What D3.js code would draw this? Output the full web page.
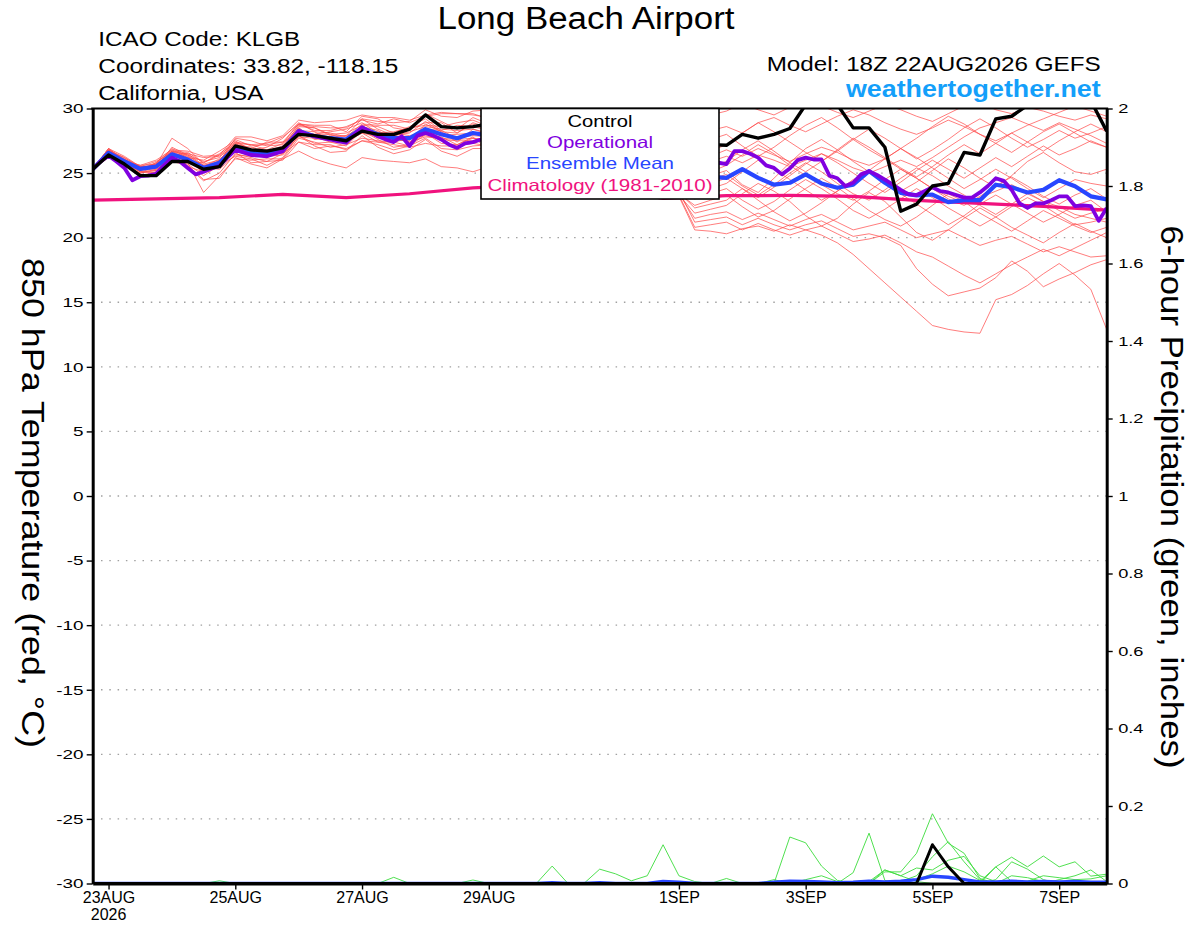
<!DOCTYPE html>
<html><head><meta charset="utf-8">
<script src="https://cdn.jsdelivr.net/npm/d3@7"></script>
<style>
body{margin:0;background:#fff}
svg{display:block}
text{font-family:"Liberation Sans",Arial,Helvetica,sans-serif}
</style>
</head><body>
<svg id="chart" width="1200" height="927"></svg>
<script>
// ---------------- DATA ----------------
const runStartUTC = "2026-08-22T18:00:00Z";
const runEndUTC = "2026-09-07T18:00:00Z";
const stepHours = 6;          // control, mean, members, precip
const opStepHours = 3;        // operational run
const climStepHours = 24;

const tempTicks = [30,25,20,15,10,5,0,-5,-10,-15,-20,-25,-30];
const precipTicks = [2,1.8,1.6,1.4,1.2,1,0.8,0.6,0.4,0.2,0];
const xTickDates = ["2026-08-23","2026-08-25","2026-08-27","2026-08-29","2026-09-01","2026-09-03","2026-09-05","2026-09-07"];
const xTickLabels = ["23AUG","25AUG","27AUG","29AUG","1SEP","3SEP","5SEP","7SEP"];
const legendLabels = ["Control","Operational","Ensemble Mean","Climatology (1981-2010)"];

const controlTemp = [25.3,26.4,25.7,24.8,24.8,25.9,25.9,25.3,25.5,27.1,26.8,26.7,26.95,
 28.0,27.9,27.7,27.5,28.25,28.0,28.0,28.4,29.5,28.6,28.5,28.6,28.8,
 29.2,28.9,28.4,28.7,28.2,27.9,28.3,27.8,27.5,27.9,27.6,27.3,27.6,
 27.2,27.15,28.0,27.7,28.0,28.45,30.3,31.0,30.3,28.5,28.5,27.0,22.05,
 22.6,24.0,24.2,26.6,26.4,29.2,29.4,30.25,31.0,31.3,31.0,30.6,28.25];

const meanTemp = [25.3,26.57,25.9,25.33,25.5,26.45,26.05,25.4,25.8,26.95,26.57,26.45,26.8,
 28.25,27.86,27.7,27.6,28.5,28.0,27.7,27.7,28.4,28.0,27.7,28.1,27.9,
 27.6,27.8,27.3,27.0,27.2,26.6,26.3,26.5,25.9,25.6,25.8,25.2,24.9,
 24.7,24.63,25.3,24.63,24.1,24.25,24.9,24.2,23.86,24.1,25.15,24.25,23.47,
 23.27,23.34,22.75,22.9,22.9,24.1,23.9,23.5,23.7,24.45,23.98,23.2,22.96];

const operationalTemp = [25.3,25.9,26.35,25.9,25.4,24.45,24.76,24.8,24.95,25.6,26.2,25.9,25.4,
 24.9,25.1,25.35,25.55,26.2,26.8,26.6,26.4,26.35,26.3,26.5,26.7,27.5,
 28.25,28.0,27.85,27.7,27.6,27.45,27.35,28.0,28.55,28.2,27.85,27.6,27.4,
 27.85,27.1,27.9,28.1,27.9,27.6,27.2,26.95,27.3,27.4,27.6,27.9,27.5,
 27.2,27.6,27.3,26.9,27.2,27.0,26.6,26.9,26.5,26.2,26.6,26.3,25.9,
 26.2,26.0,25.6,25.9,25.7,25.3,25.6,25.4,25.1,25.5,25.3,25.0,25.4,
 25.6,25.8,25.7,26.7,26.7,26.5,26.2,25.6,25.4,24.9,25.35,26.0,26.2,
 26.05,26.05,24.8,24.6,24.0,24.25,24.9,25.15,24.85,24.5,24.1,23.7,23.35,
 23.3,23.6,23.9,23.6,23.5,23.3,23.1,23.1,23.5,24.0,24.6,24.4,23.7,
 22.65,22.3,22.65,22.65,22.9,23.2,23.2,22.45,22.5,22.45,21.3,22.3];

const climatologyTemp = [22.9,23.0,23.1,23.35,23.1,23.4,23.85,24.1,23.9,23.05,23.25,23.27,23.2,22.88,22.65,22.42,22.13];

const member01 = [25.3,26.8,26.0,25.3,25.8,26.7,26.4,25.9,26.2,27.6,27.1,27.2,27.4,28.8,28.6,28.5,28.5,29.2,29.0,28.9,29.0,29.9,29.4,29.3,29.8,
 29.9,30.3,30.1,30.6,30.2,29.8,30.4,30.0,29.6,29.9,29.4,29.1,29.6,29.2,29.5,
 29.8,30.4,29.9,29.5,30.1,30.6,30.2,29.7,29.3,29.8,30.3,29.9,29.4,29.0,29.6,30.2,30.5,29.9,29.6,30.1,29.8,29.4,29.1,29.5,29.2];
const member02 = [25.3,26.9,25.9,25.5,25.6,27.7,26.9,25.7,26.0,27.4,27.2,27.3,27.8,28.8,28.3,28.3,28.6,29.1,28.8,29.2,28.9,29.4,29.6,29.6,29.6,
 29.2,28.8,29.3,28.6,28.1,28.7,28.2,27.7,28.3,27.8,27.3,27.9,27.4,27.0,27.6,
 28.0,27.1,26.3,27.0,27.9,28.7,29.3,28.5,27.6,26.8,26.1,26.9,27.7,28.6,29.4,28.8,28.0,27.3,26.6,27.4,28.2,28.8,28.1,27.4,27.0];
const member03 = [25.3,26.5,26.0,25.6,25.7,26.5,25.9,25.8,26.4,27.3,26.6,26.7,27.1,28.5,27.6,27.7,27.9,28.5,27.7,27.9,28.2,28.6,28.4,28.3,28.4,
 28.0,27.6,27.8,27.2,26.6,26.9,26.3,25.8,26.1,25.5,25.0,25.4,24.8,24.3,24.8,
 25.2,24.1,23.5,24.6,25.8,26.9,27.6,26.8,25.9,25.1,24.2,23.6,24.3,25.2,26.1,25.4,24.6,23.9,24.8,25.9,26.6,25.8,25.1,24.9,25.3];
const member04 = [25.3,26.3,25.7,25.1,25.0,26.1,25.8,23.5,24.8,26.1,26.0,26.1,26.1,27.7,27.4,27.0,27.2,27.7,27.5,27.4,27.1,28.0,27.8,27.2,27.8,
 26.8,26.2,26.2,25.4,24.7,24.8,24.1,23.5,23.6,23.3,23.4,23.2,23.3,20.8,21.0,
 21.2,20.6,21.1,20.6,20.2,20.6,20.9,20.3,19.7,19.9,20.2,19.6,18.9,18.5,17.8,17.1,16.5,17.2,17.9,18.5,19.1,18.6,19.2,19.8,20.4];
const member05 = [25.3,26.7,25.6,24.8,25.1,25.9,25.6,24.5,24.6,26.2,25.7,25.4,26.1,26.7,26.1,25.7,25.4,26.2,26.0,25.9,25.8,26.1,25.5,25.4,25.1,
 25.5,25.3,24.8,24.5,24.0,24.2,23.6,23.3,23.5,23.2,23.4,23.3,23.2,20.6,20.5,
 20.3,20.7,20.9,20.5,21.0,20.6,20.2,19.6,18.7,17.6,16.5,15.4,14.3,13.2,12.9,12.7,12.6,15.2,15.6,16.3,17.2,18.0,17.1,16.0,12.9];
const member06 = [25.3,26.8,26.1,25.3,25.7,26.8,26.2,26.0,26.7,27.5,26.8,27.0,27.7,28.9,28.2,28.1,27.8,28.8,28.7,28.7,28.4,28.9,28.9,28.1,28.9,
 28.5,28.0,28.3,27.7,27.2,27.6,27.0,26.6,27.0,26.4,26.0,26.5,25.9,25.4,25.9,
 26.3,25.8,26.4,26.0,25.5,26.0,26.5,26.0,25.4,25.0,25.5,26.0,25.5,26.2,27.0,27.8,28.5,28.9,29.3,28.8,28.3,28.9,28.4,27.9,27.3];
const member07 = [25.3,26.4,25.9,25.4,25.4,26.2,25.5,25.1,25.8,26.6,25.8,25.9,26.5,27.4,26.9,27.1,26.9,27.5,27.2,26.8,27.1,27.7,26.9,26.8,27.1,
 27.2,26.6,26.7,26.0,25.3,25.4,24.7,24.1,24.2,23.6,23.2,23.4,23.3,21.9,22.2,
 22.5,23.4,24.2,23.6,22.8,21.7,20.9,21.5,22.6,23.5,22.8,21.6,20.4,19.8,20.6,21.5,22.3,21.6,20.8,20.2,19.6,20.4,21.1,20.5,20.0];
const member08 = [25.3,26.7,26.2,25.5,25.9,26.6,26.5,25.6,25.9,27.7,27.5,27.1,27.2,28.6,28.5,28.0,28.1,28.7,28.6,28.1,28.6,29.2,28.3,28.7,28.6,
 28.3,27.8,28.1,27.5,27.0,27.3,26.7,26.3,26.6,26.0,25.6,26.0,25.4,25.0,25.5,
 25.9,26.8,27.5,26.7,25.8,25.1,25.9,26.8,27.7,27.0,26.2,25.4,24.7,25.5,26.4,27.2,26.5,27.3,28.1,27.4,26.7,27.5,28.2,28.8,28.2];
const member09 = [25.3,26.6,25.7,25.2,25.5,26.7,26.1,25.0,25.5,26.8,26.7,26.3,26.4,28.0,27.8,27.4,27.4,28.1,27.4,27.4,27.7,27.9,27.6,27.5,27.5,
 27.4,26.9,27.0,26.3,25.6,25.8,25.1,24.5,24.7,24.0,23.4,23.6,23.4,22.5,22.9,
 23.3,22.4,21.6,22.1,23.0,23.8,24.6,23.9,23.0,22.1,21.4,20.9,21.6,22.5,23.4,22.8,21.9,21.2,20.5,21.3,22.1,21.5,20.9,20.4,20.8];
const member10 = [25.3,26.9,26.0,25.5,25.5,26.4,26.5,26.2,26.3,27.1,26.9,27.4,27.4,28.2,28.0,28.2,28.4,28.9,28.1,28.2,28.5,28.7,28.6,28.9,29.1,
 28.6,28.2,28.5,27.9,27.5,27.9,27.4,27.0,27.4,26.8,26.4,26.9,26.3,25.9,26.3,
 26.8,26.3,26.9,26.4,25.9,26.5,27.0,26.6,26.0,25.6,26.1,25.3,24.6,23.8,23.2,22.7,23.1,23.6,24.1,23.5,22.8,22.4,21.8,21.5,21.2];
const member11 = [25.3,26.2,25.8,25.1,25.2,26.4,25.9,25.4,25.3,26.4,26.3,26.5,26.7,27.9,27.3,27.4,27.1,28.3,27.6,27.0,27.2,28.1,27.3,27.2,27.7,
 27.3,26.8,26.9,26.2,25.5,25.6,24.9,24.3,24.5,23.8,23.3,23.5,23.5,22.3,22.6,
 22.9,23.8,22.9,22.0,21.3,21.9,22.7,23.6,24.5,25.1,24.3,23.4,22.6,21.8,21.0,21.7,22.6,23.3,22.6,21.9,21.2,21.8,22.5,22.9,22.0];
const member12 = [25.3,26.7,25.9,25.2,25.8,26.9,26.3,25.2,26.0,27.3,27.2,26.8,27.3,28.8,28.7,28.7,28.2,29.4,29.2,28.5,28.3,29.6,29.0,28.4,29.3,
 28.8,28.4,28.9,28.3,27.8,28.2,27.6,27.1,27.6,27.0,26.6,27.1,26.5,26.1,26.7,
 27.2,28.1,28.9,28.2,27.4,26.6,25.9,26.7,27.6,28.4,27.7,26.9,26.1,26.8,27.6,28.5,29.2,28.5,27.7,27.0,27.6,28.3,27.7,28.1,28.6];
const member13 = [25.3,26.5,25.6,25.0,25.3,26.0,25.7,24.8,25.6,26.3,26.1,25.6,26.2,27.9,27.1,26.6,26.7,27.9,27.0,26.5,26.8,27.6,26.7,26.3,26.9,
 26.9,26.3,26.3,25.6,24.9,25.0,24.3,23.7,23.8,23.3,23.5,23.2,23.6,21.2,21.4,
 21.6,21.0,21.5,21.0,20.6,21.0,21.3,20.7,20.1,20.3,20.0,19.4,17.6,16.4,15.5,15.8,16.1,16.9,18.2,17.4,16.2,16.8,17.3,17.9,18.3];
const member14 = [25.3,26.8,26.2,25.4,25.6,26.7,26.6,25.8,26.5,27.4,26.8,26.6,27.0,28.7,28.5,27.9,27.9,29.2,28.4,27.9,28.1,29.0,28.2,28.1,28.8,
 28.2,27.7,28.0,27.3,26.8,27.1,26.5,26.0,26.3,25.7,25.2,25.6,25.0,24.6,25.1,
 25.6,26.4,27.2,26.5,25.6,24.8,24.1,23.4,22.9,23.6,24.5,25.3,24.6,23.8,23.0,22.5,23.2,24.0,24.7,24.0,23.2,22.6,23.3,23.8,23.0];
const member15 = [25.3,26.4,25.7,25.3,25.7,26.3,26.0,25.5,26.1,26.9,26.4,26.8,26.9,28.1,28.0,28.0,27.6,28.4,28.2,27.8,27.4,28.4,28.3,27.7,27.9,
 27.8,27.3,27.5,26.8,26.2,26.5,25.8,25.3,25.6,24.9,24.4,24.8,24.2,23.7,24.2,
 24.6,23.8,23.1,23.9,24.8,25.7,26.5,25.8,25.0,24.2,23.5,24.3,25.2,26.0,25.3,24.6,25.4,26.2,25.5,26.3,27.1,26.4,26.9,27.5,27.0];
const member16 = [25.3,26.9,26.3,25.5,25.5,26.6,26.0,25.1,25.9,27.2,27.0,26.5,26.6,28.3,28.2,27.5,27.7,28.2,27.9,28.1,27.9,28.2,27.9,28.0,28.1,
 28.1,27.7,27.9,27.1,26.5,26.8,26.1,25.6,25.9,25.2,24.7,25.1,24.5,24.0,24.5,
 24.9,24.0,23.3,24.1,25.0,25.8,25.1,24.2,23.4,22.9,23.7,24.6,25.4,24.8,24.0,23.3,22.5,21.8,22.6,23.4,22.8,22.1,21.5,21.9,22.2];
const member17 = [25.3,26.6,26.0,25.1,25.4,27.0,26.4,25.5,25.7,27.1,26.5,26.2,26.8,28.5,27.7,27.6,27.3,28.6,28.3,27.6,27.5,28.8,28.2,27.4,28.4,
 28.1,27.5,27.6,26.9,26.2,26.4,25.7,25.1,25.3,24.6,24.0,24.3,23.7,23.3,23.8,
 24.2,25.1,26.0,25.3,24.5,23.7,22.9,23.6,24.4,25.2,26.1,26.9,26.2,25.4,24.6,23.8,24.5,25.3,24.6,23.8,23.1,23.8,24.5,24.2,24.0];
const member18 = [25.3,26.3,25.5,25.0,25.2,26.3,25.5,24.4,25.0,26.5,26.2,25.9,26.0,27.4,27.2,27.2,26.8,27.5,27.4,27.2,27.0,27.3,27.1,27.1,27.3,
 27.1,26.5,26.5,25.8,25.1,25.2,24.5,23.9,24.0,23.4,23.3,23.5,23.4,21.5,21.8,
 22.0,21.4,21.9,21.4,20.9,21.4,21.8,21.2,20.6,20.9,21.2,20.6,20.0,20.3,20.6,20.0,19.4,19.8,20.1,19.5,18.9,19.3,18.9,18.5,18.6];
const member19 = [25.3,26.7,25.9,25.6,26.0,26.8,26.7,26.3,26.4,27.8,27.8,27.5,27.9,29.1,28.9,29.0,29.1,29.5,29.3,29.3,29.1,29.5,29.7,29.6,29.5,
 29.3,29.6,29.0,28.7,29.2,28.8,28.3,28.9,28.5,28.0,28.4,28.8,28.2,27.8,28.3,
 28.6,28.1,28.9,29.3,28.7,28.2,28.8,29.4,29.9,29.5,28.9,28.4,28.0,28.5,29.1,28.6,28.0,27.5,28.1,28.7,29.2,29.7,30.2,29.8,29.4];
const member20 = [25.3,26.5,26.1,25.4,25.3,26.5,26.3,25.6,25.7,26.7,26.6,26.7,26.5,27.8,27.7,27.8,27.5,28.1,27.8,27.7,27.4,27.8,27.7,27.6,27.7,
 27.6,27.1,27.3,26.6,25.9,26.1,25.4,24.8,25.0,24.3,23.7,24.0,23.4,23.0,23.4,
 23.8,22.9,22.2,22.8,23.7,24.5,23.8,23.0,22.1,21.5,22.2,23.0,23.8,23.1,22.3,21.6,20.9,21.6,22.4,23.1,22.5,21.7,21.0,21.2,21.5];

const controlPrecip = [0,0,0,0,0,0,0,0,0,0,0,0,0,
 0,0,0,0,0,0,0,0,0,0,0,0,0,
 0,0,0,0,0,0,0,0,0,0,0,0,0,
 0,0,0,0,0,0,0,0,0,0,0,0,0,
 0,0.1,0.043,0,0,0,0,0,0,0,0,0,0];
const meanPrecip = [0,0,0,0,0,0,0,0,0,0,0,0,0,
 0,0,0,0,0,0,0,0,0,0,0,0,0,
 0,0,0,0.002,0,0,0.002,0,0,0,0.005,0.003,0,
 0,0,0,0,0.003,0.006,0.005,0.004,0.002,0.003,0.006,0.004,0.006,
 0.01,0.019,0.016,0.01,0.004,0.004,0.006,0.004,0.005,0.004,0.005,0.003,0.003];
const precip01 = [0,0,0,0,0,0,0,0,0,0,0,0,0,
 0,0,0,0,0,0,0,0,0,0,0,0,0,
 0,0,0,0.045,0,0,0,0,0,0,0,0,0,
 0,0,0,0,0,0.12,0.105,0.045,0.008,0,0,0,0,
 0,0,0,0,0,0,0,0,0,0,0,0,0];
const precip02 = [0,0,0,0,0,0,0,0,0,0,0,0,0,
 0,0,0,0,0,0,0,0,0,0,0,0,0,
 0,0,0,0,0,0,0.037,0.025,0.007,0.02,0.1,0.02,0.005,
 0,0.013,0,0,0,0,0,0,0,0,0,0,0,
 0,0,0,0,0,0,0,0,0,0,0,0,0];
const precip03 = [0,0,0,0,0,0,0,0,0,0,0,0,0,
 0,0,0,0,0,0,0,0,0,0,0,0,0,
 0,0,0,0,0,0,0,0,0,0,0,0,0,
 0,0,0,0,0.01,0,0,0,0,0.028,0.13,0.008,0,
 0,0,0,0,0,0.01,0.056,0.037,0.01,0,0,0,0];
const precip04 = [0,0,0,0,0,0,0,0,0,0,0,0,0,
 0,0,0,0,0,0,0,0,0,0,0,0,0,
 0,0,0,0,0,0,0,0,0,0,0,0,0,
 0,0,0,0,0,0,0,0,0,0,0,0.03,0.03,
 0.078,0.18,0.104,0.078,0.013,0,0,0,0,0,0,0,0];
const precip05 = [0,0,0,0,0,0,0,0,0,0,0,0,0,
 0,0,0,0,0,0,0,0,0,0,0,0,0,
 0,0,0,0,0,0,0,0,0,0,0,0,0,
 0,0,0,0,0,0,0,0,0,0,0,0,0.005,
 0.02,0.069,0.108,0.056,0.01,0,0,0,0,0,0,0,0];
const precip06 = [0,0,0,0,0,0,0,0,0,0,0,0,0,
 0,0,0,0,0,0,0,0,0,0,0,0,0,
 0,0,0,0,0,0,0,0,0,0,0,0,0,
 0,0,0,0,0,0,0,0,0,0,0,0,0,
 0,0,0,0,0,0.043,0.068,0.043,0.071,0.043,0.056,0.019,0.024];
const precip07 = [0,0,0,0,0,0,0,0,0,0,0,0,0,
 0,0,0,0,0,0,0,0,0,0,0,0,0,
 0,0,0,0,0,0,0,0,0,0,0,0,0,
 0,0,0,0,0,0,0,0,0,0,0.005,0.035,0.02,
 0.04,0.035,0.06,0.07,0.02,0.005,0,0,0,0,0,0,0];
const precip08 = [0,0,0,0,0,0,0,0,0.007,0,0,0,0,
 0,0,0,0,0,0,0.016,0,0,0,0,0.009,0,
 0,0,0,0,0,0,0,0,0,0,0,0,0,
 0,0,0,0,0,0,0,0,0,0,0,0,0,
 0,0,0,0,0.005,0.043,0.005,0,0,0.01,0.02,0.035,0.005];
const precip09 = [0,0,0,0,0,0,0,0,0,0,0,0,0,
 0,0,0,0,0,0,0,0,0,0,0,0,0,
 0,0,0,0,0,0,0,0,0,0,0,0,0,
 0,0,0,0,0,0,0.01,0.02,0.005,0,0,0,0,
 0.01,0.025,0.045,0.03,0.008,0,0.02,0.015,0.005,0,0,0,0];
const precip10 = [0,0,0,0,0,0,0,0,0,0,0,0,0,
 0,0,0,0,0,0,0,0,0,0,0,0,0,
 0,0,0,0,0,0,0,0,0,0,0,0,0,
 0,0,0,0,0,0,0,0,0,0,0,0.035,0.02,
 0.005,0,0,0,0,0,0,0.006,0.02,0.015,0.01,0.012,0.02];

const ensembleMembers = [member01,member02,member03,member04,member05,member06,member07,member08,member09,member10,
  member11,member12,member13,member14,member15,member16,member17,member18,member19,member20];
const precipMembers = [precip01,precip02,precip03,precip04,precip05,precip06,precip07,precip08,precip09,precip10];

// ---------------- STYLE ----------------
const COL = {control:"#000000", oper:"#8000e0", mean:"#2846ff", clim:"#f0127e", member:"#ff4a4a", precip:"#3cdc3c", brand:"#149ffa"};
const legendColors = [COL.control, COL.oper, COL.mean, COL.clim];
const FONT = '"Liberation Sans",Arial,Helvetica,sans-serif';

// ---------------- CHART ----------------
const plot = {left:92.7, right:1106.7, top:108.5, bottom:883.5};
const svg = d3.select("#chart");
const t0 = new Date(runStartUTC), t1 = new Date(runEndUTC);
const x = d3.scaleUtc().domain([t0, t1]).range([plot.left, plot.right]);
const yT = d3.scaleLinear().domain([-30, 30]).range([plot.bottom, plot.top]);
const yP = d3.scaleLinear().domain([0, 2]).range([plot.bottom, plot.top]);
const atHour = h => new Date(t0.getTime() + h * 3600e3);
const toSeries = (vals, step) => vals.map((v, i) => [atHour(i * step), v]);

svg.append("defs").append("clipPath").attr("id", "clip")
  .append("rect").attr("x", plot.left).attr("y", plot.top)
  .attr("width", plot.right - plot.left).attr("height", plot.bottom - plot.top);

// grid
svg.append("g").selectAll("line").data(tempTicks.filter(d => d > -30 && d < 30)).join("line")
  .attr("x1", plot.left).attr("x2", plot.right)
  .attr("y1", d => yT(d)).attr("y2", d => yT(d))
  .attr("stroke", "#a0a0a0").attr("stroke-width", 1.3).attr("stroke-dasharray", "1.5 6.8");

const lineT = d3.line().x(d => x(d[0])).y(d => yT(d[1]));
const lineP = d3.line().x(d => x(d[0])).y(d => yP(d[1]));
const gl = svg.append("g").attr("clip-path", "url(#clip)");

// ensemble members (temperature)
gl.append("g").selectAll("path").data(ensembleMembers).join("path")
  .attr("d", m => lineT(toSeries(m, stepHours)))
  .attr("fill", "none").attr("stroke", COL.member).attr("stroke-width", 0.8).attr("stroke-opacity", 0.9);

// precipitation members
gl.append("g").selectAll("path").data(precipMembers).join("path")
  .attr("d", m => lineP(toSeries(m, stepHours)))
  .attr("fill", "none").attr("stroke", COL.precip).attr("stroke-width", 0.9);

gl.append("path").attr("d", lineP(toSeries(meanPrecip, stepHours)))
  .attr("fill", "none").attr("stroke", COL.mean).attr("stroke-width", 3.5).attr("stroke-linejoin", "round");
gl.append("path").attr("d", lineP(toSeries(controlPrecip, stepHours)))
  .attr("fill", "none").attr("stroke", COL.control).attr("stroke-width", 3).attr("stroke-linejoin", "round");

// climatology, mean, operational, control temperature
gl.append("path").attr("d", lineT(toSeries(climatologyTemp, climStepHours)))
  .attr("fill", "none").attr("stroke", COL.clim).attr("stroke-width", 3.2);
gl.append("path").attr("d", lineT(toSeries(meanTemp, stepHours)))
  .attr("fill", "none").attr("stroke", COL.mean).attr("stroke-width", 4.2).attr("stroke-linejoin", "round");
gl.append("path").attr("d", lineT(toSeries(operationalTemp, opStepHours)))
  .attr("fill", "none").attr("stroke", COL.oper).attr("stroke-width", 3.8).attr("stroke-linejoin", "round");
gl.append("path").attr("d", lineT(toSeries(controlTemp, stepHours)))
  .attr("fill", "none").attr("stroke", COL.control).attr("stroke-width", 3.4).attr("stroke-linejoin", "round");

// axes
const plainNum = d => String(d);
const axL = svg.append("g").attr("transform", `translate(${plot.left},0)`)
  .call(d3.axisLeft(yT).tickValues(tempTicks).tickFormat(plainNum).tickSize(6).tickSizeOuter(0).tickPadding(0.5));
const axR = svg.append("g").attr("transform", `translate(${plot.right},0)`)
  .call(d3.axisRight(yP).tickValues(precipTicks).tickFormat(plainNum).tickSize(6).tickSizeOuter(0).tickPadding(2.5));
const axB = svg.append("g").attr("transform", `translate(0,${plot.bottom})`)
  .call(d3.axisBottom(x).tickValues(xTickDates.map(d => new Date(d + "T00:00:00Z")))
    .tickFormat((d, i) => xTickLabels[i]).tickSize(6).tickSizeOuter(0).tickPadding(2.5));
[axL, axR, axB].forEach(a => {
  a.attr("font-family", FONT);
  a.select(".domain").attr("stroke", "#000").attr("stroke-width", 3);
  a.selectAll(".tick line").attr("stroke", "#000").attr("stroke-width", 1.4);
  a.selectAll(".tick text").attr("fill", "#000");
});
axL.attr("font-size", 13.5);
axR.attr("font-size", 13.5);
axB.attr("font-size", 16);
axL.selectAll(".tick text").attr("transform", "scale(1.4,1)");
axR.selectAll(".tick text").attr("transform", "scale(1.35,1)");
// year under first date
svg.append("text").attr("x", x(new Date(xTickDates[0] + "T00:00:00Z"))).attr("y", 920)
  .attr("text-anchor", "middle").attr("font-size", 16).text("2026");
// top border
svg.append("line").attr("x1", plot.left - 1.5).attr("x2", plot.right + 1.5)
  .attr("y1", plot.top).attr("y2", plot.top).attr("stroke", "#000").attr("stroke-width", 2.2);

// legend
const lg = svg.append("g");
lg.append("rect").attr("x", 481).attr("y", plot.top).attr("width", 238).attr("height", 90.5)
  .attr("fill", "#fff").attr("stroke", "#000").attr("stroke-width", 1.6);
const legendW = [65, 106, 148, 225], legendY = [126.7, 147.7, 169, 190.7];
legendLabels.forEach((t, i) => {
  lg.append("text").attr("x", 600 - legendW[i] / 2).attr("y", legendY[i])
    .attr("font-size", 16.5).attr("fill", legendColors[i])
    .attr("textLength", legendW[i]).attr("lengthAdjust", "spacingAndGlyphs").text(t);
});

// texts
function txt(s, x0, y0, size, len, opts = {}) {
  const t = svg.append("text").attr("x", x0).attr("y", y0).attr("font-size", size)
    .attr("textLength", len).attr("lengthAdjust", "spacingAndGlyphs")
    .attr("fill", opts.fill || "#000").text(s);
  if (opts.bold) t.attr("font-weight", "bold");
  return t;
}
txt("Long Beach Airport", 437.5, 29, 31, 297);
txt("ICAO Code: KLGB", 98.3, 46, 20, 202);
txt("Coordinates: 33.82, -118.15", 98.3, 73.3, 20, 300);
txt("California, USA", 98.3, 100, 20, 165);
txt("Model: 18Z 22AUG2026 GEFS", 766.7, 71, 20, 334);
txt("weathertogether.net", 846, 97.3, 24, 254.7, {fill: COL.brand, bold: true});

// axis titles (rotated clockwise)
svg.append("text").attr("transform", "translate(21.7,503) rotate(90)")
  .attr("x", -245).attr("y", 0).attr("font-size", 32)
  .attr("textLength", 490).attr("lengthAdjust", "spacingAndGlyphs")
  .text("850 hPa Temperature (red, °C)");
svg.append("text").attr("transform", "translate(1161,497) rotate(90)")
  .attr("x", -271.5).attr("y", 0).attr("font-size", 32)
  .attr("textLength", 543).attr("lengthAdjust", "spacingAndGlyphs")
  .text("6-hour Precipitation (green, inches)");
</script>
</body></html>
